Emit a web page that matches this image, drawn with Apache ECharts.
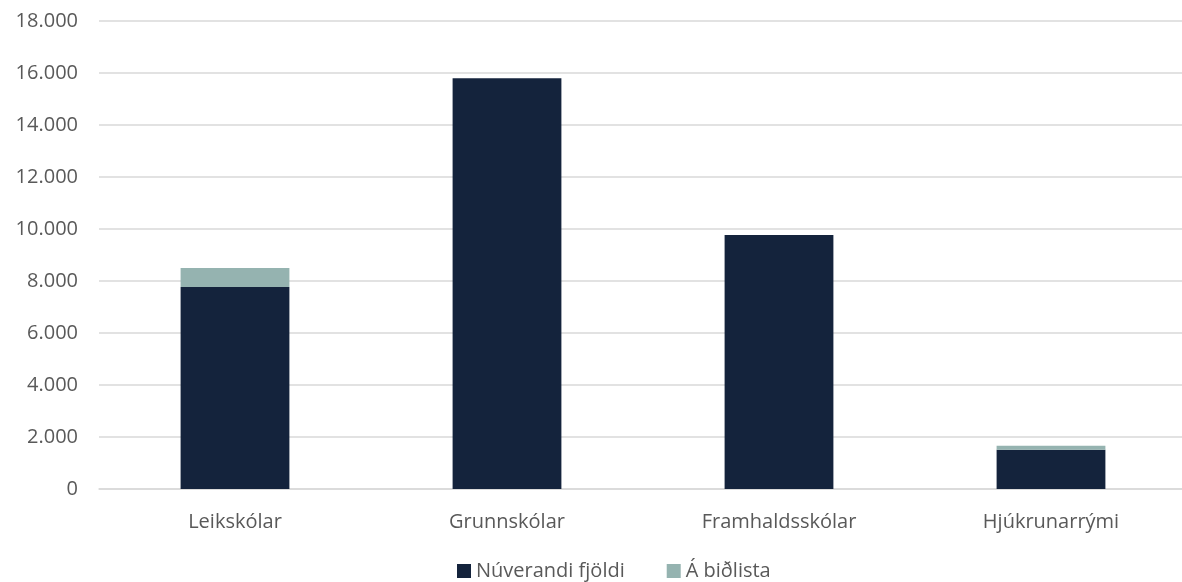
<!DOCTYPE html>
<html>
<head>
<meta charset="utf-8">
<script src="https://cdn.jsdelivr.net/npm/echarts@6/dist/echarts.min.js"></script>
<style>
  html, body { margin: 0; padding: 0; background: #fff; overflow: hidden; }
  #main { width: 1192px; height: 582px; }
</style>
</head>
<body>
<div id="main"></div>
<script>
// gögn
const categories = ['Leikskólar', 'Grunnskólar', 'Framhaldsskólar', 'Hjúkrunarrými']
const nuverandi = [7770, 15800, 9770, 1510]
const bidlisti = [730, 0, 0, 150]
const seriesNames = ['Núverandi fjöldi', 'Á biðlista']

const fmt = v => String(v).replace(/\B(?=(\d{3})+(?!\d))/g, '.')
const txt = '#595959'
const fontFamily = '"Open Sans", "Noto Sans", sans-serif'

// breiðara svæði en glugginn svo síðasti flokkurinn nái út að brún
const myChart = echarts.init(document.getElementById('main'))
myChart.setOption({
  animation: false,
  textStyle: { fontFamily },
  grid: { left: 99, top: 21, width: 1088, height: 468 },
  legend: {
    top: 556,
    left: 452,
    itemWidth: 14,
    itemHeight: 14,
    itemGap: 42,
    icon: 'rect',
    textStyle: { color: txt, fontSize: 20, fontFamily },
    data: seriesNames
  },
  xAxis: {
    type: 'category',
    data: categories,
    axisLine: { lineStyle: { color: '#d9d9d9', width: 1.5 } },
    axisTick: { show: false },
    axisLabel: { color: txt, fontSize: 20, margin: 23, fontFamily }
  },
  yAxis: {
    type: 'value',
    min: 0,
    max: 18000,
    interval: 2000,
    axisLine: { show: false },
    axisTick: { show: false },
    splitLine: { lineStyle: { color: '#d9d9d9', width: 1.5 } },
    axisLabel: { color: txt, fontSize: 20, margin: 21, formatter: fmt, fontFamily }
  },
  series: [{
    name: seriesNames[0],
    type: 'bar',
    stack: 'a',
    barWidth: '40%',
    itemStyle: { color: '#14233c' },
    data: nuverandi
  }, {
    name: seriesNames[1],
    type: 'bar',
    stack: 'a',
    barWidth: '40%',
    itemStyle: { color: '#95b3b0' },
    data: bidlisti
  }]
})
</script>
</body>
</html>
